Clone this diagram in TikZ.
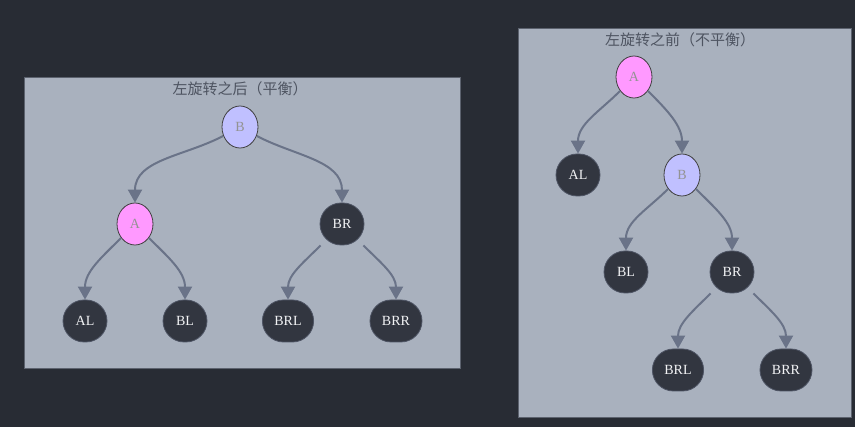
\documentclass[tikz,border=0pt]{standalone}
\usepackage{fontspec}
\setmainfont{Liberation Serif}
\newfontfamily\cjk{Noto Sans CJK SC}
\usetikzlibrary{arrows.meta,shapes.geometric}

\definecolor{bgdark}{HTML}{282C34}
\definecolor{panelgray}{HTML}{A9B1BE}
\definecolor{panelline}{HTML}{5C626E}
\definecolor{edgegray}{HTML}{6A7388}
\definecolor{nodedark}{HTML}{323640}
\definecolor{nodepink}{HTML}{FF99FF}
\definecolor{nodeblue}{HTML}{C0C0FF}
\definecolor{titlegray}{HTML}{4E5461}

\tikzset{
	panel/.style={-, draw=panelline, fill=panelgray, line width=1pt},
	treetitle/.style={text=titlegray, font=\cjk\fontsize{15}{15}\selectfont},
	lightnode/.style={ellipse, draw=black!75, line width=0.8pt, minimum width=36pt, minimum height=42pt, inner sep=0pt, text=gray!85, font=\fontsize{14}{14}\selectfont},
	pinknode/.style={lightnode, fill=nodepink},
	bluenode/.style={lightnode, fill=nodeblue},
	darknode/.style={rectangle, rounded corners=21pt, fill=nodedark, draw=edgegray!50!nodedark, line width=0.8pt, minimum width=44pt, minimum height=42pt, inner xsep=12pt, text=white!85!panelgray, font=\fontsize{14}{14}\selectfont},
	treeedge/.style={draw=edgegray, line width=2pt}
}

\begin{document}
\begin{tikzpicture}[x=1pt, y=1pt, -{Triangle[width=14pt,length=13pt]}]
	\useasboundingbox (0,0) rectangle (855,-427);
	\fill[bgdark] (0,0) rectangle (855,-427);

	% after the rotation
	\draw[panel] (24,-78) rectangle (460,-369);
	\node[treetitle] (afterT) at (240,-89) {左旋转之后（平衡）};
	\node[bluenode] (aB) at (240,-127) {B};
	\node[pinknode] (aA) at (135,-224) {A};
	\node[darknode] (aBR) at (342,-224) {BR};
	\node[darknode] (aAL) at (85,-321) {AL};
	\node[darknode] (aBL) at (185,-321) {BL};
	\node[darknode] (aBRL) at (288,-321) {BRL};
	\node[darknode] (aBRR) at (396,-321) {BRR};
	\draw[treeedge] (aB) to [out=-152, in=90] (aA);
	\draw[treeedge] (aB) to [out=-28, in=90] (aBR);
	\draw[treeedge] (aA) to [out=-135, in=90] (aAL);
	\draw[treeedge] (aA) to [out=-45, in=90] (aBL);
	\draw[treeedge] (aBR) to [out=-135, in=90] (aBRL);
	\draw[treeedge] (aBR) to [out=-45, in=90] (aBRR);

	% before the rotation
	\draw[panel] (518,-29) rectangle (851,-418);
	\node[treetitle] (beforeT) at (680,-40) {左旋转之前（不平衡）};
	\node[pinknode] (bA) at (634,-77) {A};
	\node[darknode] (bAL) at (578,-175) {AL};
	\node[bluenode] (bB) at (682,-175) {B};
	\node[darknode] (bBL) at (626,-272) {BL};
	\node[darknode] (bBR) at (732,-272) {BR};
	\node[darknode] (bBRL) at (678,-370) {BRL};
	\node[darknode] (bBRR) at (786,-370) {BRR};
	\draw[treeedge] (bA) to [out=-135, in=90] (bAL);
	\draw[treeedge] (bA) to [out=-45, in=90] (bB);
	\draw[treeedge] (bB) to [out=-135, in=90] (bBL);
	\draw[treeedge] (bB) to [out=-45, in=90] (bBR);
	\draw[treeedge] (bBR) to [out=-135, in=90] (bBRL);
	\draw[treeedge] (bBR) to [out=-45, in=90] (bBRR);
\end{tikzpicture}
\end{document}
